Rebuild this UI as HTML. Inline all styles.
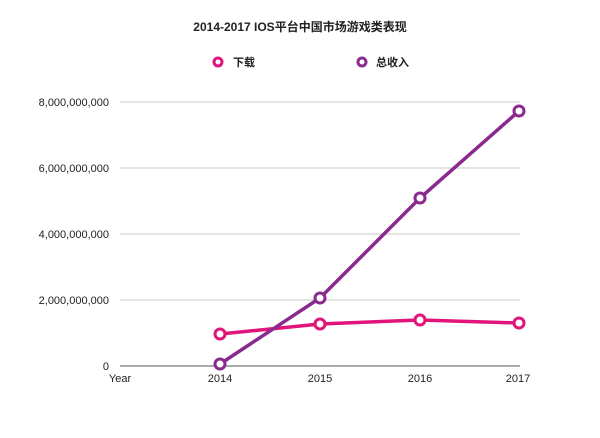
<!DOCTYPE html>
<html><head><meta charset="utf-8"><style>
body{margin:0;background:#fff}
text{font-family:"Liberation Sans","Noto Sans CJK SC",sans-serif;fill:#222}
</style></head><body>
<svg width="600" height="433" xmlns="http://www.w3.org/2000/svg">
<text x="300" y="31" font-size="12" font-weight="bold" text-anchor="middle">2014-2017 IOS平台中国市场游戏类表现</text>
<circle cx="218" cy="62" r="4" fill="#fff" stroke="#e0147a" stroke-width="3"/>
<text x="233" y="66" font-size="11" font-weight="bold">下载</text>
<circle cx="362" cy="62" r="4" fill="#fff" stroke="#8a2a8e" stroke-width="3"/>
<text x="376" y="66" font-size="11" font-weight="bold">总收入</text>
<g stroke="#c8c8c8" stroke-width="1">
<line x1="120" x2="520" y1="102" y2="102"/>
<line x1="120" x2="520" y1="168" y2="168"/>
<line x1="120" x2="520" y1="234" y2="234"/>
<line x1="120" x2="520" y1="300" y2="300"/>
</g>
<line x1="120" x2="520" y1="366" y2="366" stroke="#555" stroke-width="1"/>
<g font-size="11" text-anchor="end">
<text x="109" y="106">8,000,000,000</text>
<text x="109" y="172">6,000,000,000</text>
<text x="109" y="238">4,000,000,000</text>
<text x="109" y="304">2,000,000,000</text>
<text x="109" y="370">0</text>
</g>
<g font-size="11" text-anchor="middle">
<text x="120" y="382">Year</text>
<text x="220" y="382">2014</text>
<text x="320" y="382">2015</text>
<text x="420" y="382">2016</text>
<text x="518" y="382">2017</text>
</g>
<polyline points="220,334 320,324 420,320 519,323" fill="none" stroke="#e0147a" stroke-width="3.5"/>
<polyline points="220,364 320,298 420,198 519,111" fill="none" stroke="#8a2a8e" stroke-width="3.5"/>
<g fill="#fff" stroke="#e0147a" stroke-width="3">
<circle cx="220" cy="334" r="5"/><circle cx="320" cy="324" r="5"/><circle cx="420" cy="320" r="5"/><circle cx="519" cy="323" r="5"/>
</g>
<g fill="#fff" stroke="#8a2a8e" stroke-width="3">
<circle cx="220" cy="364" r="5"/><circle cx="320" cy="298" r="5"/><circle cx="420" cy="198" r="5"/><circle cx="519" cy="111" r="5"/>
</g>
</svg>
</body></html>
